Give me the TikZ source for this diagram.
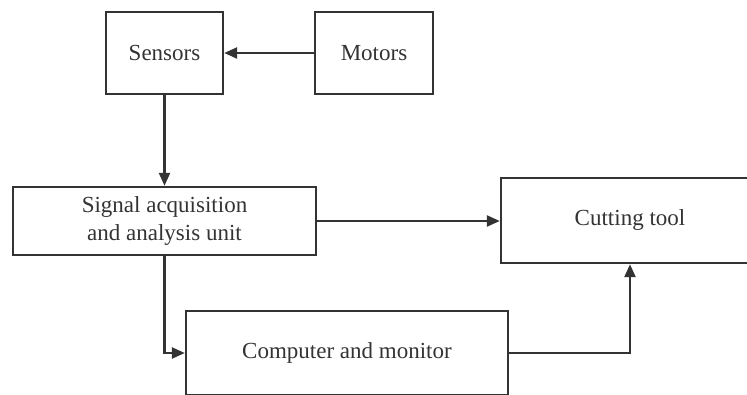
\documentclass[tikz,border=0pt]{standalone}
\usepackage{fontspec}
\setmainfont{Liberation Serif}
\usetikzlibrary{arrows.meta}
\definecolor{ink}{HTML}{333333}
\begin{document}
\begin{tikzpicture}[x=1pt,y=-1pt,
  box/.style={draw=ink, line width=2.4pt, text=ink, inner sep=0pt, align=center,
    font=\fontsize{23}{28}\selectfont},
  conn/.style={draw=ink, line width=2.4pt, -{Triangle[length=13pt,width=11pt]}}]
\useasboundingbox (0,0) rectangle (747,395);
\clip (0,0) rectangle (747,395);
\node[box, minimum width=117pt, minimum height=82pt] (sens) at (164.5,53) {Sensors};
\node[box, minimum width=118pt, minimum height=82pt] (mot) at (374,53) {Motors};
\node[box, minimum width=303pt, minimum height=68pt] (sig) at (164.5,221) {Signal acquisition\\and analysis unit};
\node[box, minimum width=258pt, minimum height=85pt] (cut) at (630,220.5) {Cutting tool};
\node[box, minimum width=322pt, minimum height=84pt] (comp) at (347,353) {Computer and monitor};
\draw[conn] (mot.west) -- (sens.east);
\draw[conn] (sens.south) -- (sig.north);
\draw[conn] (sig.east) -- (sig.east -| cut.west);
\draw[conn] (sig.south) |- (comp.west);
\draw[conn] (comp.east) -| (cut.south);
\end{tikzpicture}
\end{document}
